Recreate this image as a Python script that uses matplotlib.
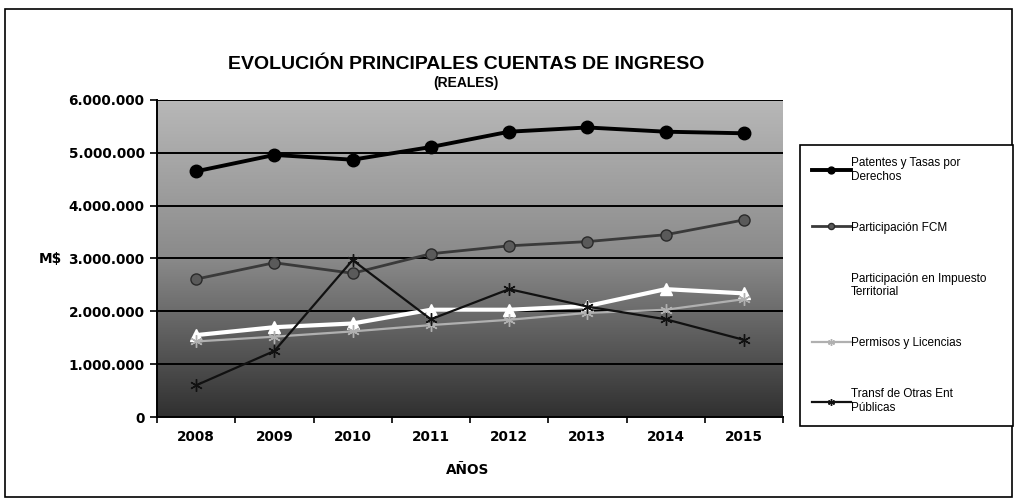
import numpy as np
import matplotlib
matplotlib.use("Agg")
import matplotlib.pyplot as plt
from matplotlib.patches import Rectangle
from matplotlib.colors import LinearSegmentedColormap

years = ["2008", "2009", "2010", "2011", "2012", "2013", "2014", "2015"]
patentes = [4650000, 4960000, 4870000, 5110000, 5400000, 5480000, 5400000, 5370000]
fcm = [2610000, 2920000, 2720000, 3090000, 3240000, 3320000, 3450000, 3730000]
impuesto = [1550000, 1700000, 1770000, 2030000, 2030000, 2100000, 2420000, 2340000]
permisos = [1430000, 1520000, 1620000, 1740000, 1840000, 1970000, 2030000, 2230000]
transf = [600000, 1250000, 2970000, 1850000, 2420000, 2090000, 1850000, 1460000]
yticks = [0, 1000000, 2000000, 3000000, 4000000, 5000000, 6000000]
ytick_labels = ["0", "1.000.000", "2.000.000", "3.000.000", "4.000.000", "5.000.000", "6.000.000"]
labels = ["Patentes y Tasas por\nDerechos", "Participación FCM",
          "Participación en Impuesto\nTerritorial", "Permisos y Licencias",
          "Transf de Otras Ent\nPúblicas"]

W, H = 1015, 498
fig = plt.figure(figsize=(W / 100, H / 100), dpi=100)
fig.patch.set_facecolor("white")

ax = fig.add_axes([157 / W, 1 - 417 / H, (783 - 157) / W, (417 - 100) / H])
x = np.arange(len(years))

# gradient background (light at top, dark at bottom)
grad = np.linspace(0, 1, 256).reshape(-1, 1)
cmap = LinearSegmentedColormap.from_list("g", ["#b8b8b8", "#8a8a8a", "#303030"])
ax.imshow(grad, aspect="auto", cmap=cmap, extent=(-0.5, 7.5, 0, 6000000),
          origin="upper", zorder=0, interpolation="bicubic")
ax.set_xlim(-0.5, 7.5)
ax.set_ylim(0, 6000000)

for yv in yticks[1:]:
    ax.axhline(yv, color="black", lw=1.4, zorder=1)

sty = dict(zorder=3, markeredgewidth=1.0)
l1, = ax.plot(x, patentes, color="black", lw=2.8, marker="o", markersize=9,
              markerfacecolor="black", markeredgecolor="black", label=labels[0], **sty)
l2, = ax.plot(x, fcm, color="#3a3a3a", lw=2.0, marker="o", markersize=8,
              markerfacecolor="#5a5a5a", markeredgecolor="#2a2a2a", label=labels[1], **sty)
l3, = ax.plot(x, impuesto, color="white", lw=3.0, marker="^", markersize=9,
              markerfacecolor="white", markeredgecolor="white", label=labels[2], **sty)
l4, = ax.plot(x, permisos, color="#b0b0b0", lw=1.6, marker=(6, 2, 0), markersize=9,
              markerfacecolor="#b0b0b0", markeredgecolor="#b0b0b0", label=labels[3], **sty)
l5, = ax.plot(x, transf, color="#111111", lw=1.6, marker=(6, 2, 0), markersize=9,
              markerfacecolor="#111111", markeredgecolor="#111111", label=labels[4], **sty)

ax.set_yticks(yticks)
ax.set_yticklabels(ytick_labels)
ax.set_xticks(x)
ax.set_xticklabels(years)
ax.set_xticks(np.arange(-0.5, 8.0, 1.0), minor=True)
ax.tick_params(axis="x", which="major", length=0, pad=9)
ax.tick_params(axis="x", which="minor", length=4, width=1.2, direction="out")
ax.tick_params(axis="y", length=5, width=1.2, direction="out", pad=4)
for lab in ax.get_xticklabels() + ax.get_yticklabels():
    lab.set_fontfamily("DejaVu Sans")
    lab.set_fontweight("bold")
    lab.set_fontsize(9.8)
for s in ["top", "right"]:
    ax.spines[s].set_visible(False)
ax.spines["left"].set_linewidth(1.4)
ax.spines["bottom"].set_linewidth(1.4)

fig.text(466 / W, 1 - 64 / H, "EVOLUCIÓN PRINCIPALES CUENTAS DE INGRESO",
         ha="center", va="center", fontsize=14, fontweight="bold",
         family="Liberation Sans")
fig.text(466 / W, 1 - 83 / H, "(REALES)", ha="center", va="center",
         fontsize=10, fontweight="bold", family="Liberation Sans")
fig.text(50 / W, 1 - 259 / H, "M$", ha="center", va="center", fontsize=9.8,
         fontweight="bold", family="DejaVu Sans")
fig.text(468 / W, 1 - 470 / H, "AÑOS", ha="center", va="center", fontsize=9.8,
         fontweight="bold", family="DejaVu Sans")

leg = fig.legend(handles=[l1, l2, l3, l4, l5], loc="upper left",
                 bbox_to_anchor=(800 / W, 1 - 433 / H, 213 / W, (433 - 145) / H),
                 mode="expand", borderaxespad=0, frameon=True, fancybox=False,
                 edgecolor="black", framealpha=1, facecolor="white",
                 prop={"family": "Liberation Sans", "size": 8.5},
                 handlelength=3.3, handletextpad=0.0, labelspacing=3.3,
                 markerscale=0.55, borderpad=1.0)
leg.get_frame().set_linewidth(1.2)

fig.patches.append(Rectangle((5 / W, 1 / H), 1007 / W, 488 / H, transform=fig.transFigure,
                             fill=False, edgecolor="black", lw=1.2))

fig.savefig("out.png", dpi=100)
